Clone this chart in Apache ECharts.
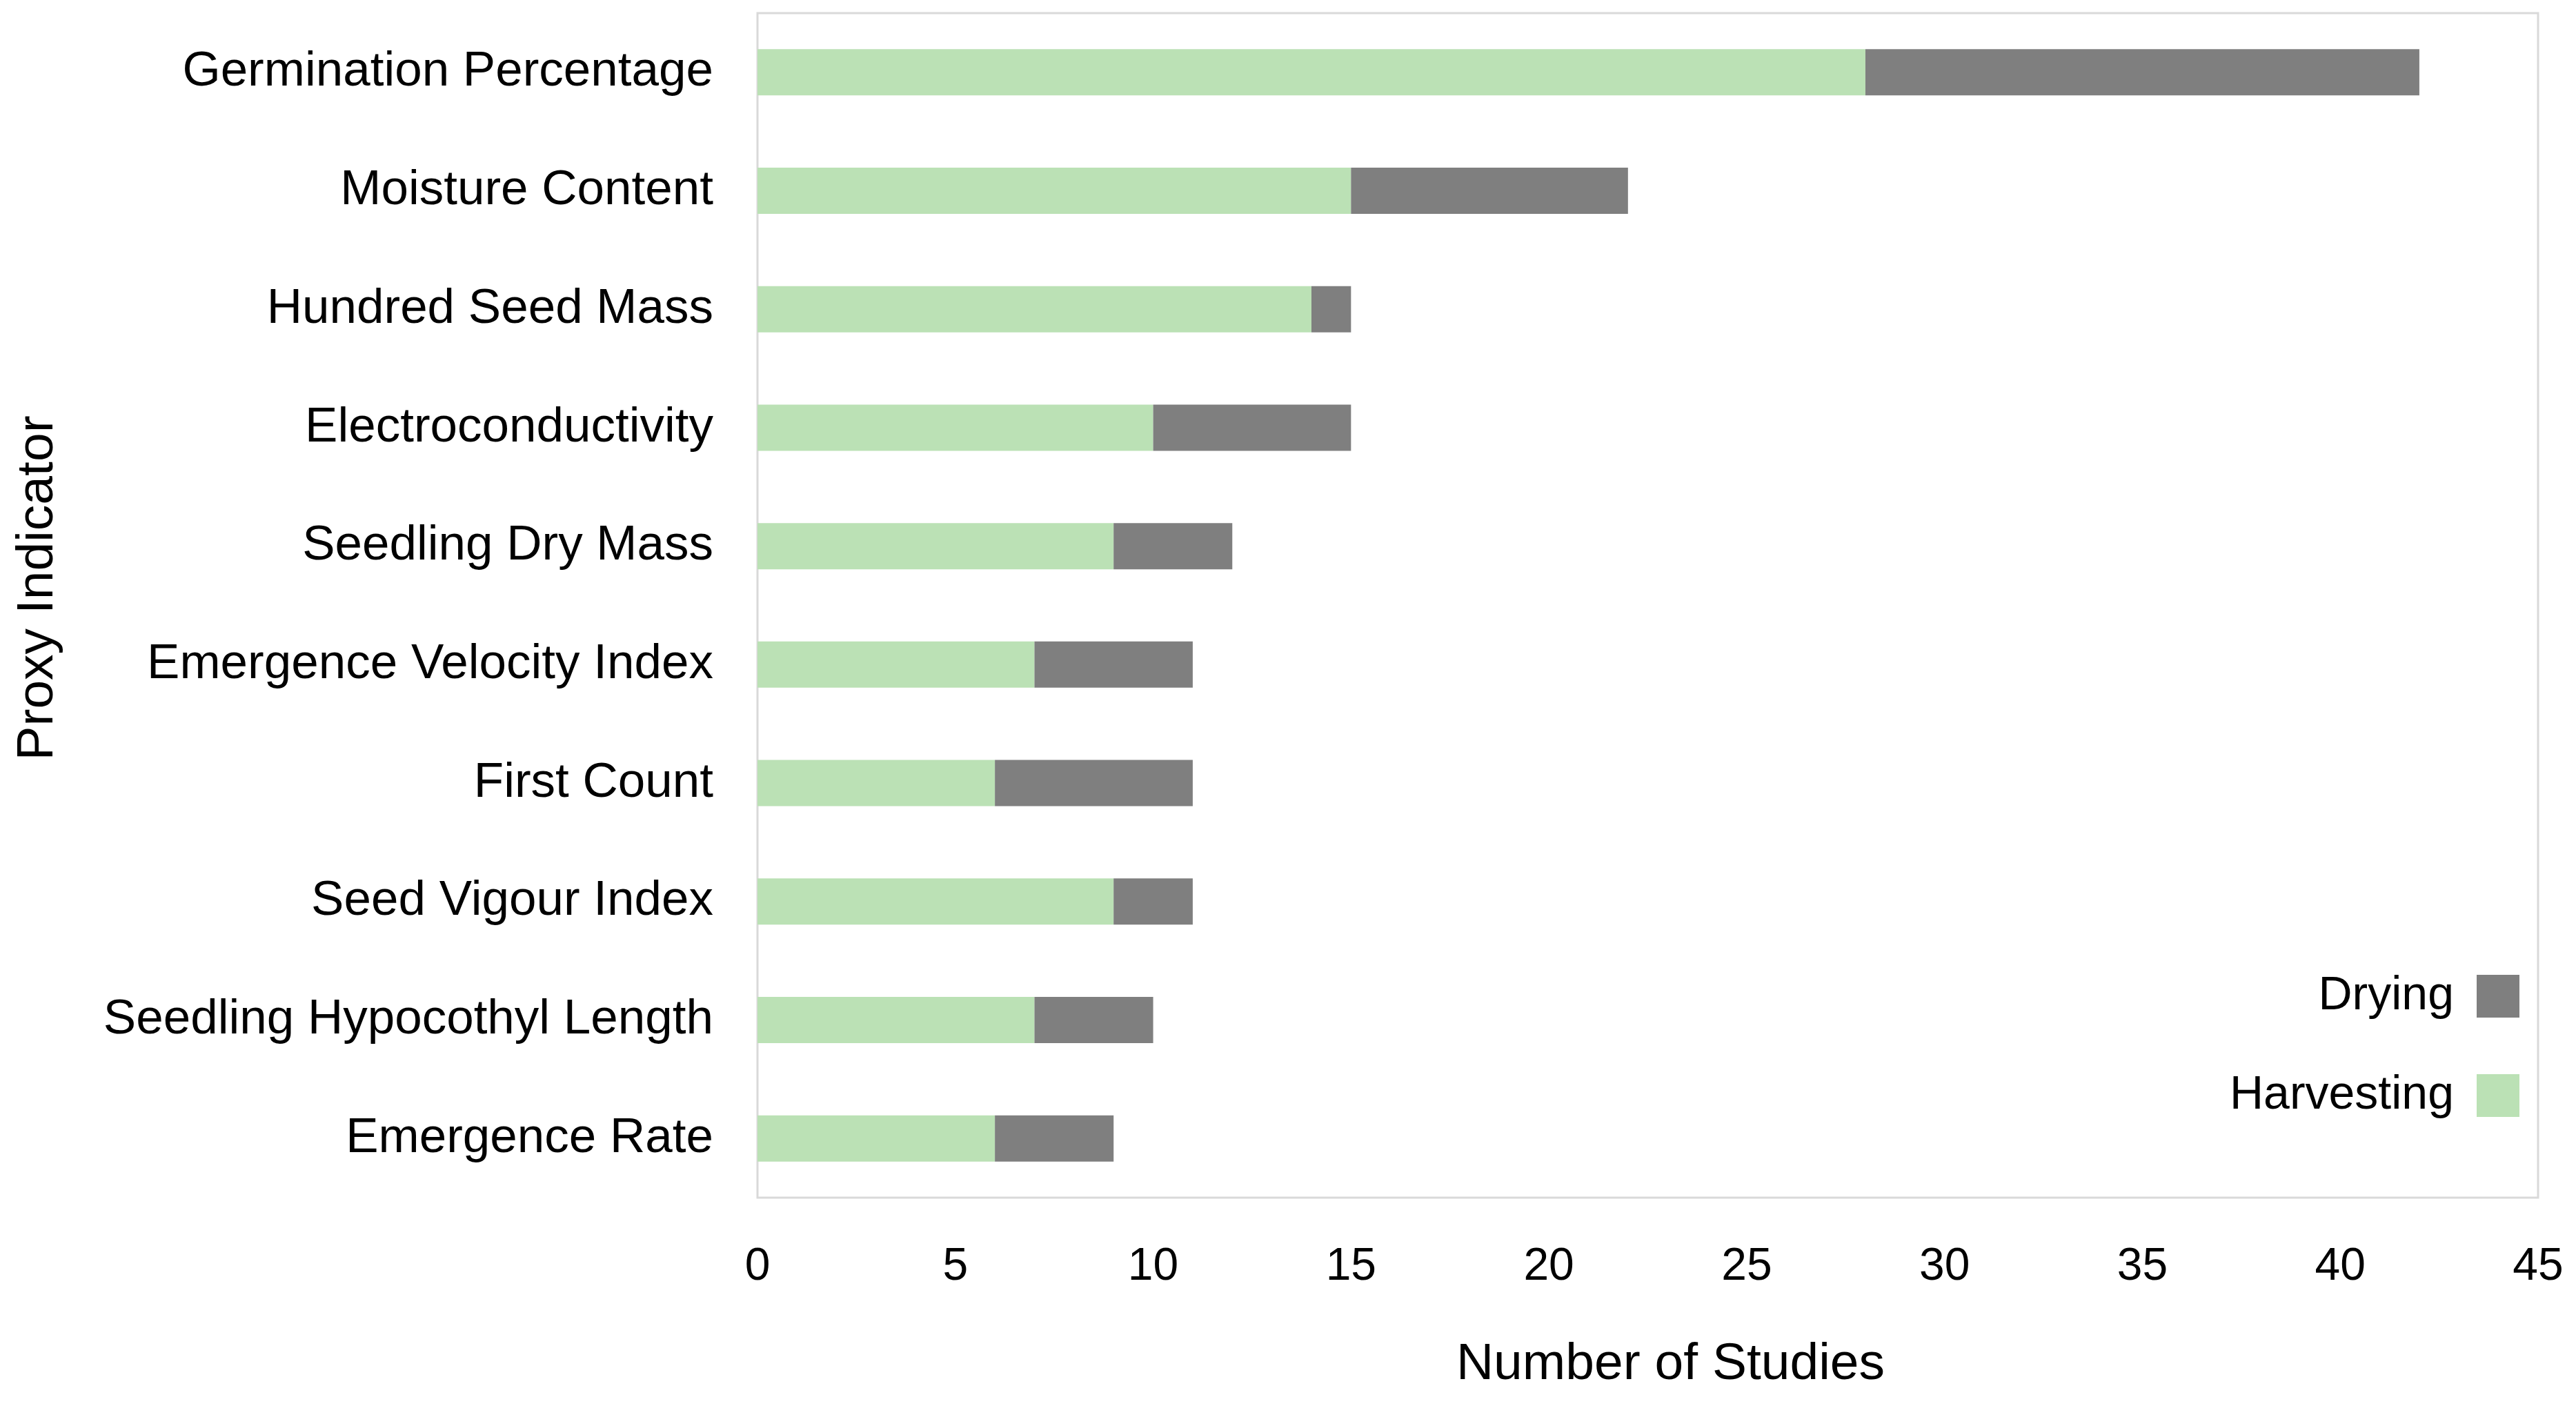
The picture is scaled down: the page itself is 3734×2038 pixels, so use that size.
<!DOCTYPE html>
<html>
<head>
<meta charset="utf-8">
<script src="https://cdn.jsdelivr.net/npm/echarts@6/dist/echarts.min.js"></script>
<style>
html,body{margin:0;padding:0;background:#fff;}
#chart{width:3734px;height:2038px;}
</style>
</head>
<body>
<div id="chart"></div>
<script>
const categories = [
  'Germination Percentage',
  'Moisture Content',
  'Hundred Seed Mass',
  'Electroconductivity',
  'Seedling Dry Mass',
  'Emergence Velocity Index',
  'First Count',
  'Seed Vigour Index',
  'Seedling Hypocothyl Length',
  'Emergence Rate'
];
const harvesting = [28, 15, 14, 10, 9, 7, 6, 9, 7, 6];
const drying = [14, 7, 1, 5, 3, 4, 5, 2, 3, 3];
const xTicks = { min: 0, max: 45, interval: 5 };

const FONT = "'Liberation Sans', Arial, sans-serif";
const chart = echarts.init(document.getElementById('chart'));
chart.setOption({
  animation: false,
  backgroundColor: '#ffffff',
  textStyle: { fontFamily: FONT, color: '#000' },
  grid: {
    left: 1098, right: 55, top: 19, bottom: 302,
    show: true, borderColor: '#d9d9d9', borderWidth: 3,
    containLabel: false
  },
  legend: {
    data: ['Drying', 'Harvesting'],
    orient: 'vertical',
    align: 'right',
    right: 77,
    top: 1405,
    itemWidth: 62,
    itemHeight: 62,
    itemGap: 76,
    icon: 'rect',
    textStyle: { fontSize: 68, fontFamily: FONT, color: '#000', padding: [0, 28, 0, 0] }
  },
  xAxis: {
    type: 'value',
    min: xTicks.min, max: xTicks.max, interval: xTicks.interval,
    name: 'Number of Studies',
    nameLocation: 'middle',
    nameGap: 205,
    nameTextStyle: { fontSize: 75, fontFamily: FONT, color: '#000', padding: [0, 0, 0, 66] },
    axisLine: { show: false },
    axisTick: { show: false },
    splitLine: { show: false },
    axisLabel: { fontSize: 66, margin: 68, color: '#000', fontFamily: FONT }
  },
  yAxis: {
    type: 'category',
    data: categories,
    inverse: true,
    name: 'Proxy Indicator',
    nameLocation: 'middle',
    nameGap: 1005,
    nameRotate: 90,
    nameTextStyle: { fontSize: 75, fontFamily: FONT, color: '#000', padding: [0, 0, 0, 50] },
    axisLine: { show: false },
    axisTick: { show: false },
    splitLine: { show: false },
    axisLabel: { fontSize: 71, margin: 64, color: '#000', fontFamily: FONT }
  },
  series: [
    {
      name: 'Harvesting', type: 'bar', stack: 'total',
      data: harvesting, barWidth: '39%',
      itemStyle: { color: '#bbe1b5' }
    },
    {
      name: 'Drying', type: 'bar', stack: 'total',
      data: drying, barWidth: '39%',
      itemStyle: { color: '#7f7f7f' }
    }
  ]
});
</script>
</body>
</html>
